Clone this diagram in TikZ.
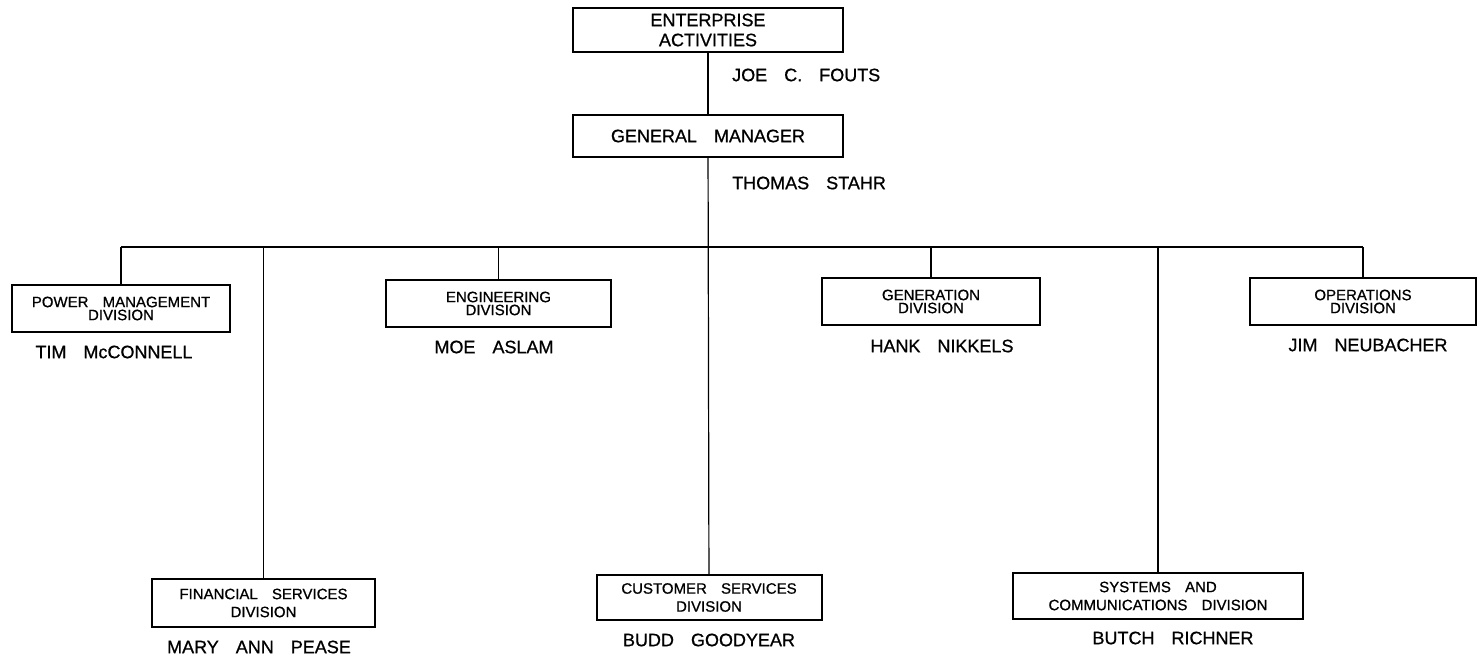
\documentclass[tikz,border=0pt]{standalone}
\usepackage{fontspec}
\setmainfont{Liberation Sans}[WordSpace={3.4,0,0}, FakeBold=0.8]
\begin{document}
\begin{tikzpicture}[x=1pt,y=-1pt]
 \tikzset{unit/.style={draw, line width=2pt, inner sep=0pt, align=center, font=\fontsize{15}{13}\selectfont}}
 \tikzset{lowunit/.style={unit, font=\fontsize{15}{18}\selectfont}}
 \tikzset{head/.style={unit, font=\fontsize{18}{20}\selectfont}}
 \tikzset{person/.style={inner sep=0pt, font=\fontsize{18}{20}\selectfont}}
 \tikzset{link/.style={line width=1.2pt}}
  \useasboundingbox (0,0) rectangle (1481,658);
  \node[head, minimum width=270pt, minimum height=44pt] (EA) at (708,30) {ENTERPRISE\\ACTIVITIES};
  \node[person, anchor=west] (JF) at (732,75) {JOE C. FOUTS};
  \node[head, minimum width=270pt, minimum height=42pt] (GM) at (708,136) {GENERAL MANAGER};
  \node[person, anchor=west] (TS) at (732,183) {THOMAS STAHR};
  \coordinate (L) at (121,247);
  \coordinate (R) at (1363,247);
  \node[unit, minimum width=218pt, minimum height=47pt] (PMD) at (121,308.5) {POWER MANAGEMENT\\DIVISION};
  \node[unit, minimum width=225pt, minimum height=47pt] (ENG) at (498.5,303.5) {ENGINEERING\\DIVISION};
  \node[unit, minimum width=218pt, minimum height=47pt] (GEN) at (931,301.5) {GENERATION\\DIVISION};
  \node[unit, minimum width=226pt, minimum height=47pt] (OPS) at (1363,301.5) {OPERATIONS\\DIVISION};
  \node[lowunit, minimum width=223pt, minimum height=48pt] (FIN) at (263.5,603) {FINANCIAL SERVICES\\DIVISION};
  \node[lowunit, minimum width=225pt, minimum height=45pt] (CUS) at (709,597.5) {CUSTOMER SERVICES\\DIVISION};
  \node[lowunit, minimum width=290pt, minimum height=46pt] (SYS) at (1158,596) {SYSTEMS AND\\COMMUNICATIONS DIVISION};
  \node[person] (TM) at (114,352) {TIM McCONNELL};
  \node[person] (MA) at (494,347) {MOE ASLAM};
  \node[person] (HN) at (942,346) {HANK NIKKELS};
  \node[person] (JN) at (1368,345) {JIM NEUBACHER};
  \node[person] (MP) at (259,647) {MARY ANN PEASE};
  \node[person] (BG) at (709,640) {BUDD GOODYEAR};
  \node[person] (BR) at (1173,638) {BUTCH RICHNER};
  \draw[link] (EA) -- (GM);
  \draw[link] (GM) -- (CUS);
  \draw[link] (L) -- (R);
  \draw[link] (PMD) -- (PMD |- L);
  \draw[link] (FIN) -- (FIN |- L);
  \draw[link] (ENG) -- (ENG |- L);
  \draw[link] (GEN) -- (GEN |- L);
  \draw[link] (SYS) -- (SYS |- L);
  \draw[link] (OPS) -- (OPS |- L);
\end{tikzpicture}
\end{document}
